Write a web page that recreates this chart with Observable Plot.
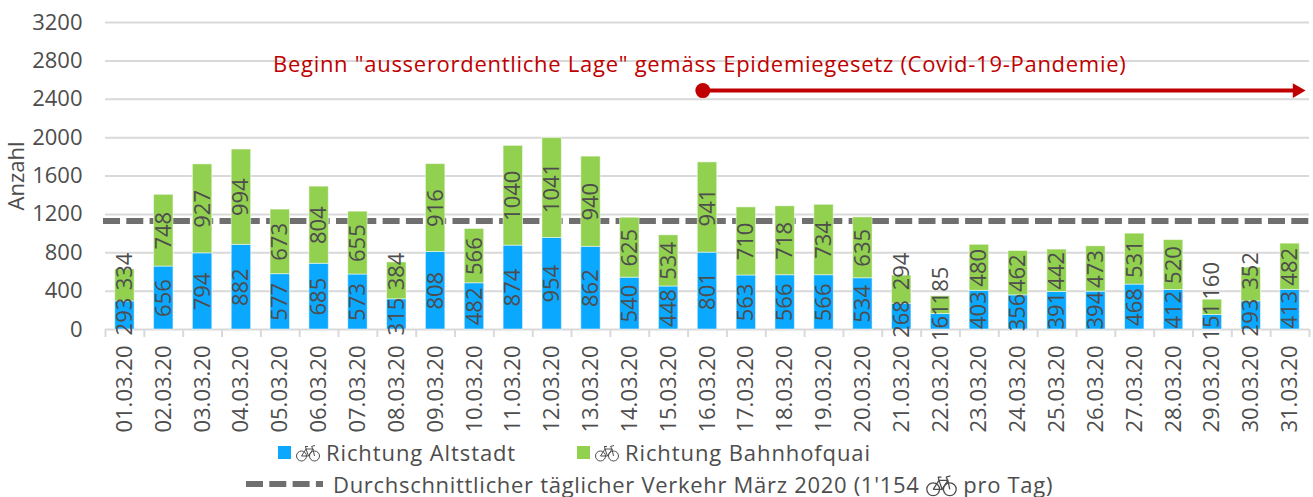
<!DOCTYPE html>
<html><head><meta charset="utf-8">
<script src="https://cdn.jsdelivr.net/npm/d3@7"></script>
<script src="https://cdn.jsdelivr.net/npm/@observablehq/plot@0.6"></script>
<style>
html,body{margin:0;padding:0;background:#fff;overflow:hidden}
body{width:1313px;height:497px;position:relative;font-family:"Open Sans",sans-serif;color:#4d4d4d}
#chart svg{display:block}
.lg{position:absolute;white-space:nowrap;font-size:22px;line-height:30px;height:30px;letter-spacing:.9px}
.lg.row2{letter-spacing:.7px}
.sq{position:absolute;width:13px;height:13px}
.bike{position:absolute;width:24px;height:18px}
.bike.inl{position:relative;width:31px;height:23px;top:4px;margin:0}
.anno text{letter-spacing:.72px}
</style></head><body>
<div id="chart"></div>
<script>
const dates = ["01.03.20","02.03.20","03.03.20","04.03.20","05.03.20","06.03.20","07.03.20","08.03.20","09.03.20","10.03.20","11.03.20","12.03.20","13.03.20","14.03.20","15.03.20","16.03.20","17.03.20","18.03.20","19.03.20","20.03.20","21.03.20","22.03.20","23.03.20","24.03.20","25.03.20","26.03.20","27.03.20","28.03.20","29.03.20","30.03.20","31.03.20"];
const altstadt = [293,656,794,882,577,685,573,315,808,482,874,954,862,540,448,801,563,566,566,534,268,161,403,356,391,394,468,412,151,293,413];
const bahnhofquai = [334,748,927,994,673,804,655,384,916,566,1040,1041,940,625,534,941,710,718,734,635,294,185,480,462,442,473,531,520,160,352,482];
const averageLevel = 1130;
const yTicks = [0,400,800,1200,1600,2000,2400,2800,3200];
const annotation = 'Beginn "ausserordentliche Lage" gemäss Epidemiegesetz (Covid-19-Pandemie)';
// where the labels of short segments were moved to, in data units
const blueLabelAt = new Map([["01.03.20",135],["08.03.20",135],["21.03.20",110],["22.03.20",76],["29.03.20",80],["30.03.20",125]]);
const greenLabelAt = new Map([["01.03.20",605],["08.03.20",605],["21.03.20",605],["22.03.20",458],["29.03.20",507],["30.03.20",610]]);

const days = dates.map((d,i)=>i+1);
const edges = d3.range(0,32).map(i=>i+0.5);
const rows = dates.map((date,i)=>({date,day:i+1,a:altstadt[i],b:bahnhofquai[i],t:altstadt[i]+bahnhofquai[i]}));
const textColor = "#4d4d4d", gridColor="#d9d9d9", red="#c00000", blue="#0ba8ff", green="#92d050", lineGray="#6f6f6f";
const w = 0.25;
const halo = {stroke:"#fff",strokeOpacity:0.5,strokeWidth:1};

const plot = Plot.plot({
  width:1313, height:432, marginLeft:105, marginRight:4, marginTop:22, marginBottom:103,
  style:{fontFamily:'"Open Sans",sans-serif',fontSize:"22px",color:textColor,background:"#fff",overflow:"visible"},
  x:{domain:[0.5,31.5],axis:null},
  y:{domain:[0,3200],axis:null},
  marks:[
    Plot.ruleY(yTicks,{stroke:gridColor,strokeWidth:2}),
    Plot.axisX({ticks:edges,tickSize:8,tickFormat:()=>"",stroke:gridColor,strokeWidth:2,strokeOpacity:1,anchor:"bottom"}),
    Plot.axisX({ticks:days,tickSize:0,tickPadding:16,tickRotate:-90,tickFormat:d=>dates[d-1],fill:textColor,anchor:"bottom"}),
    Plot.axisY({ticks:yTicks,tickSize:0,tickPadding:23,tickFormat:d=>String(d),fill:textColor,label:"Anzahl",labelAnchor:"center",labelArrow:"none",labelOffset:97,anchor:"left"}),
    Plot.ruleY([averageLevel],{stroke:lineGray,strokeWidth:6,strokeDasharray:"17 6.3",insetLeft:-2}),
    Plot.rectY(rows,{x1:d=>d.day-w,x2:d=>d.day+w,y1:0,y2:"a",fill:blue,...halo}),
    Plot.rectY(rows,{x1:d=>d.day-w,x2:d=>d.day+w,y1:"a",y2:"t",fill:green,...halo}),
    Plot.text(rows,{x:"day",y:d=>blueLabelAt.get(d.date)??d.a/2,text:d=>String(d.a),rotate:-90,fill:textColor}),
    Plot.text(rows,{x:"day",y:d=>greenLabelAt.get(d.date)??d.a+d.b/2,text:d=>String(d.b),rotate:-90,fill:textColor}),
    Plot.text([annotation],{x:[15.8],y:[2754],text:d=>d,fill:red,textAnchor:"middle",className:"anno"}),
    Plot.link([{x1:15.88,x2:31.2,y:2490}],{x1:"x1",x2:"x2",y1:"y",y2:"y",stroke:red,strokeWidth:4}),
    Plot.dot([{x:15.88,y:2490}],{x:"x",y:"y",r:7.5,fill:red}),
    Plot.dot([{x:31.18,y:2490}],{x:"x",y:"y",r:5.5,symbol:"triangle",rotate:90,fill:red})
  ]
});
document.getElementById("chart").appendChild(plot);

const bike = cls => `<svg class="bike ${cls}" viewBox="0 0 24 18" fill="none" stroke="#4d4d4d" stroke-width="1"><circle cx="5.5" cy="12" r="5"/><circle cx="18.5" cy="12" r="5"/><path d="M5.5 12L10 5H17L18.5 12M10 5L12.5 12L17 5M12.5 12H5.5M9 2.5H12M10 5L9.5 2.5M15.5 2.5L17 5M15.5 2.5L19 1.5"/></svg>`;
const add = html => document.body.insertAdjacentHTML("beforeend",html);
add(`<div class="sq" style="left:278px;top:446px;background:${blue}"></div>`);
add(`<div style="position:absolute;left:296px;top:444px;">${bike("")}</div>`);
add(`<div class="lg" style="left:326px;top:437px">Richtung Altstadt</div>`);
add(`<div class="sq" style="left:577px;top:446px;background:${green}"></div>`);
add(`<div style="position:absolute;left:595px;top:444px;">${bike("")}</div>`);
add(`<div class="lg" style="left:625px;top:437px">Richtung Bahnhofquai</div>`);
add(`<svg style="position:absolute;left:246px;top:481px" width="77" height="6"><line x1="0" x2="77" y1="3" y2="3" stroke="${lineGray}" stroke-width="6" stroke-dasharray="17 6.3"/></svg>`);
add(`<div class="lg row2" style="left:333px;top:469px">Durchschnittlicher täglicher Verkehr März 2020 (1'154 ${bike("inl")} pro Tag)</div>`);
</script>
</body></html>
